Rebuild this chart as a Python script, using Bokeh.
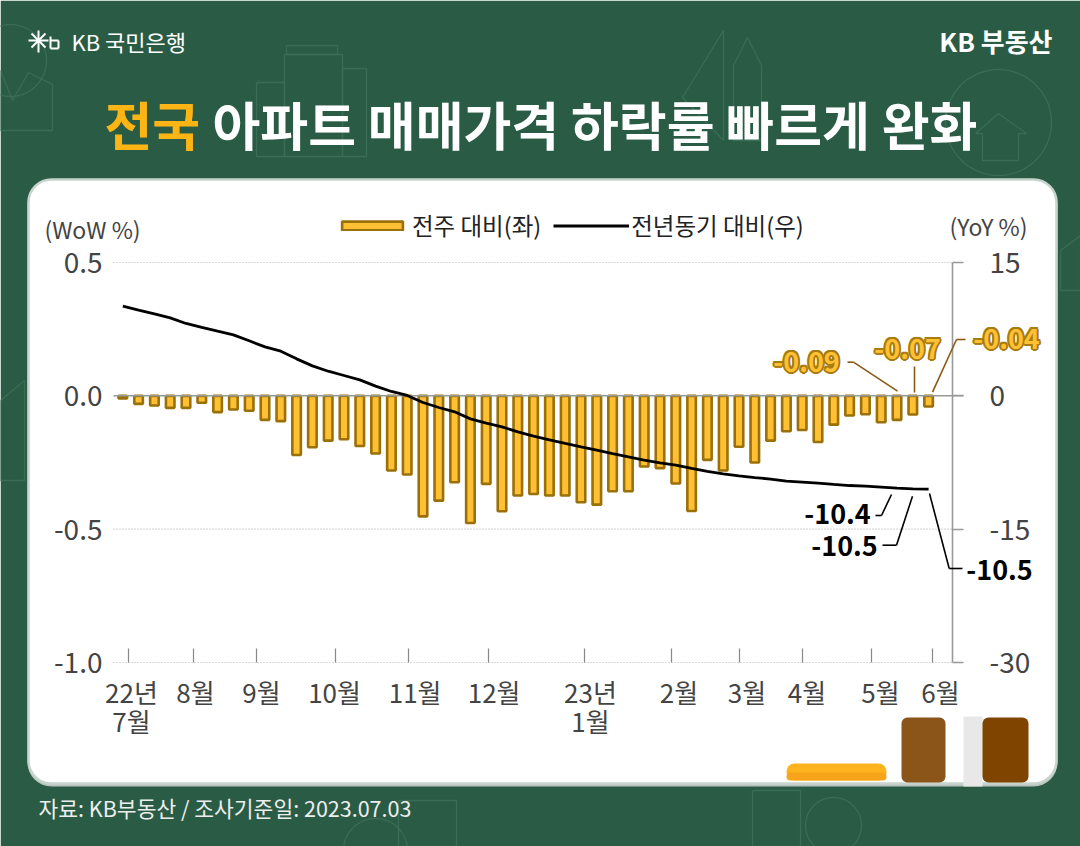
import numpy as np
from bokeh.embed import file_html
from bokeh.resources import INLINE
from bokeh.plotting import figure
from bokeh.models import (Range1d, LinearAxis, FixedTicker, Label, BoxAnnotation,
                          Arrow, Legend, LegendItem)

wow = [-0.01,-0.03,-0.036,-0.045,-0.045,-0.026,-0.061,-0.051,-0.056,-0.09,-0.095,-0.222,-0.193,-0.168,
       -0.163,-0.188,-0.216,-0.28,-0.295,-0.452,-0.393,-0.324,-0.477,-0.33,-0.433,-0.374,
       -0.368,-0.374,-0.374,-0.399,-0.408,-0.358,-0.358,-0.265,-0.271,-0.329,-0.432,-0.24,-0.28,
       -0.191,-0.25,-0.168,-0.133,-0.128,-0.173,-0.108,-0.074,-0.069,-0.099,-0.09,-0.07,-0.04]
yoy = [10.09,9.64,9.22,8.77,8.14,7.69,7.27,6.86,6.19,5.51,5.02,4.16,3.37,2.77,2.29,1.80,1.09,0.49,0.04,
       -0.75,-1.31,-1.80,-2.59,-3.07,-3.49,-4.05,-4.54,-4.95,-5.36,-5.74,-6.11,-6.49,-6.86,-7.24,-7.54,
       -7.80,-8.17,-8.51,-8.77,-9.0,-9.19,-9.37,-9.6,-9.71,-9.82,-9.97,-10.09,-10.16,-10.27,-10.38,-10.46,-10.5]
weeks = list(range(len(wow)))
month_ticks = [0.36,4.5,8.45,13.45,18.07,23.13,29.2,34.75,39.05,43,47.4,51.25]
month_label_pos = [0.55,4.6,8.78,13.4,18.5,23.5,29.6,35.2,39.5,43.3,47.95,51.75]
month_labels = ["22년\n7월","8월","9월","10월","11월","12월","23년\n1월","2월","3월","4월","5월","6월"]
wow_ticks = [-1.0,-0.5,0.0,0.5]
wow_tick_labels = ["-1.0","-0.5","0.0","0.5"]
yoy_ticks = [-30,-15,0,15]
yoy_tick_labels = ["-30","-15","0","15"]
grid_levels = [-1.0,-0.5,0.5]

FONT = "Noto Sans CJK KR"
GREEN = "#2a5c45"
DECO = "#3b6c55"
W, H = 1080, 846
L, R, T, B = 113, 952, 262, 662       # reference-pixel position of the plot area
CT, CB = 0, 846
CL, CR = 0, 1080

X0, DX = 122.3, 15.8
PER = 1.5/(B-T)
p = figure(width=W, height=H, output_backend="svg", toolbar_location=None,
           x_range=Range1d((CL-X0)/DX, (CR-X0)/DX), y_range=Range1d(-1.0-(CB-B)*PER, 0.5+(T-CT)*PER),
           min_border=0, x_axis_type=None, y_axis_type=None,
           border_fill_color=GREEN, background_fill_color=None, outline_line_color=None)
p.extra_y_ranges = {"yoy": Range1d(-30-(CB-B)*PER*30, 15+(T-CT)*PER*30), "py": Range1d(CB, CT)}
p.extra_x_ranges = {"px": Range1d(CL, CR)}

def box(l, t, r, b, color, radius=0, line=None, lw=0, level="underlay"):
    p.add_layout(BoxAnnotation(left=l, right=r, top=t, bottom=b, x_range_name="px", y_range_name="py",
                               fill_color=color, fill_alpha=1,
                               line_color=line, line_width=lw, line_alpha=1 if line else 0,
                               border_radius=radius, level=level, editable=False))

deco_xs, deco_ys = [], []
def poly(pts):
    pts = list(pts) + [pts[0]]
    deco_xs.append([float(a) for a, _ in pts])
    deco_ys.append([float(b) for _, b in pts])

def circle(cx, cy, r):
    t = np.linspace(0, 2*np.pi, 60)[:-1]
    poly(list(zip(cx+r*np.cos(t), cy+r*np.sin(t))))

def leader(pts, color, lw=1.6, level="overlay"):
    for (a, b), (c, d) in zip(pts[:-1], pts[1:]):
        p.add_layout(Arrow(end=None, x_start=a, y_start=b, x_end=c, y_end=d, line_color=color, line_width=lw,
                           x_range_name="px", y_range_name="py", level=level))

def text(x, y, s, size, color, align="center", style="normal", level="overlay"):
    p.add_layout(Label(x=x, y=y, x_range_name="px", y_range_name="py", text=s, text_font=FONT,
                       text_font_size=f"{size}px", text_color=color, text_align=align, text_baseline="middle",
                       text_font_style=style, level=level))

# page background
box(0, 0, 1080, 846, GREEN, level="image")

# background line art (kept clear of the card)
circle(10, 60, 36)
poly([(0,70),(12,100),(28,72),(52,84),(52,130),(0,130)])
poly([(286,45),(337,45),(337,54),(286,54)])
poly([(284,54),(342,54),(342,156),(284,156)])
poly([(256,82),(284,82),(284,156),(256,156)])
poly([(342,68),(366,68),(366,156),(342,156)])
poly([(723,30),(723,140),(682,97)])
poly([(747,37),(761,65),(761,140),(733,140),(733,65)])
circle(998, 122, 53)
poly([(975,133),(998,113),(1026,133),(1018,133),(1018,160),(982,160),(982,133)])
poly([(0,400),(24,380),(24,480),(0,480)])
poly([(1060,250),(1080,235),(1080,290),(1060,290)])
circle(833, 825, 28)
poly([(752,790),(800,790),(800,846),(752,846)])
circle(375, 850, 32)
poly([(398,800),(456,800),(456,846),(398,846)])
p.multi_line(xs=deco_xs, ys=deco_ys, x_range_name="px", y_range_name="py", line_color=DECO, line_width=1.3, level="underlay")

# card
box(27, 180, 1057, 786, "#b9c2bd", 24)
box(28, 179, 1056, 783, "#ffffff", 23, "#c7d4cd", 2.5)

# grid, aligned with the value scale
p.segment(x0=[L]*len(grid_levels), x1=[R]*len(grid_levels), y0=grid_levels, y1=grid_levels, x_range_name="px",
          line_color="#b5b5b5", line_dash="1 2", line_width=1.2)

bars = p.vbar(x=weeks, top=wow, bottom=0, width=0.54, fill_color="#ffc133", line_color="#9a7008", line_width=2.6)
p.segment(x0=[L], x1=[963], y0=[0], y1=[0], x_range_name="px", line_color="#999999", line_width=1.5)
line = p.line(x=weeks, y=yoy, y_range_name="yoy", line_color="#000000", line_width=2.8)

# axes
ya = LinearAxis(ticker=FixedTicker(ticks=wow_ticks), fixed_location=(L-X0)/DX, bounds=(-1.0, 0.5))
ya.major_label_overrides = dict(zip(wow_ticks, wow_tick_labels))
ya.axis_line_color = None
ya.major_tick_line_color = None
ya.minor_tick_line_color = None
ya.major_label_standoff = 5
ya.major_label_text_font = FONT
ya.major_label_text_font_size = "28px"
ya.major_label_text_color = "#444444"
p.add_layout(ya, "left")

xa = LinearAxis(ticker=FixedTicker(ticks=month_ticks), fixed_location=-1.0, bounds=((L-X0)/DX, (R-X0)/DX))
xa.axis_line_color = None
xa.major_tick_line_color = "#888888"
xa.major_tick_line_width = 1.2
xa.major_tick_in = 14
xa.major_tick_out = 0
xa.minor_tick_line_color = None
xa.major_label_text_font_size = "0px"
xa.major_label_text_color = None
p.add_layout(xa, "below")

xb = LinearAxis(ticker=FixedTicker(ticks=month_label_pos), fixed_location=-1.0, bounds=((L-X0)/DX, (R-X0)/DX))
xb.major_label_overrides = dict(zip(month_label_pos, month_labels))
xb.axis_line_color = None
xb.major_tick_line_color = None
xb.minor_tick_line_color = None
xb.major_label_standoff = 4
xb.major_label_text_font = FONT
xb.major_label_text_font_size = "26px"
xb.major_label_text_color = "#444444"
xb.major_label_text_line_height = 0.8
p.add_layout(xb, "below")

ra = LinearAxis(y_range_name="yoy", ticker=FixedTicker(ticks=yoy_ticks), fixed_location=(R-X0)/DX, bounds=(-30, 15))
ra.major_label_overrides = dict(zip(yoy_ticks, yoy_tick_labels))
ra.axis_line_color = "#999999"
ra.axis_line_width = 1.6
ra.major_tick_line_color = "#999999"
ra.major_tick_line_width = 1.4
ra.major_tick_in = 0
ra.major_tick_out = 11
ra.minor_tick_line_color = None
ra.major_label_standoff = 26
ra.major_label_text_font = FONT
ra.major_label_text_font_size = "28px"
ra.major_label_text_color = "#444444"
p.add_layout(ra, "right")

# legend
lg = Legend(items=[LegendItem(label="전주 대비(좌)", renderers=[bars]), LegendItem(label="전년동기 대비(우)", renderers=[line])],
            orientation="horizontal", location=(334, 604), border_line_color=None, background_fill_alpha=0,
            padding=0, margin=0, spacing=12, glyph_width=76, glyph_height=11, label_standoff=2, label_height=20,
            label_text_font=FONT, label_text_font_size="23.5px", label_text_color="#222222", label_text_baseline="middle")
p.add_layout(lg, "center")

# texts
text(104, 123, "전국", 52, "#fdb515", "left", "bold")
text(212, 123, "아파트 매매가격 하락률 빠르게 완화", 52, "#ffffff", "left", "bold")
text(71, 40, "KB 국민은행", 22, "#ffffff", "left")
text(1052, 40, "KB 부동산", 26, "#ffffff", "right", "bold")
text(92, 228, "(WoW %)", 23, "#444444")
text(988, 225, "(YoY %)", 23, "#444444")
text(38, 807, "자료: KB부동산 / 조사기준일: 2023.07.03", 21.5, "#eeeeee", "left")
for a, b, c, d in [(28,40,48,40),(31,33,45,47),(31,47,45,33),(38,30,38,52)]:
    leader([(a, b), (c, d)], "#ffffff", 2)
leader([(50,36),(50,48),(58,48),(58,40),(50,40)], "#ffffff", 2)

# callouts
OUT = "#a87c10"
for s, x, y in [("-0.09", 806, 361), ("-0.07", 907, 348), ("-0.04", 1006, 338)]:
    for ox, oy in [(-1.5,-1.5),(1.5,-1.5),(-1.5,1.5),(1.5,1.5),(-2,0),(2,0),(0,-2),(0,2)]:
        text(x+ox, y+oy, s, 27, OUT, style="bold")
    text(x, y, s, 27, "#ffc133", style="bold")
for s, x, y in [("-10.4", 837, 513), ("-10.5", 844, 545), ("-10.5", 999, 569)]:
    text(x, y, s, 27, "#000000", style="bold")
BR = "#8a5a12"
leader([(847,361.7),(853,361.7),(897,390.7)], BR)
leader([(914,366),(914,392)], BR)
leader([(932,391.7),(956,339),(965,339)], BR)
leader([(875,515),(881,515),(891,494)], "#000000")
leader([(882,544.7),(896,544.7),(912,495.7)], "#000000")
leader([(929,493),(948.7,568),(962,568)], "#000000")

# bottom-right blocks
box(786, 763, 886, 780, "#fdb31e", 8, level="overlay")
box(786, 772, 886, 780, "#f7a41a", 6, level="overlay")
box(901, 717, 945, 782, "#8b5419", 6, level="overlay")
box(963, 716, 982, 786, "#e8e8e8", 0, level="overlay")
box(982, 717, 1028, 782, "#7f4500", 6, level="overlay")

open("out.html", "w").write(file_html(p, INLINE))
